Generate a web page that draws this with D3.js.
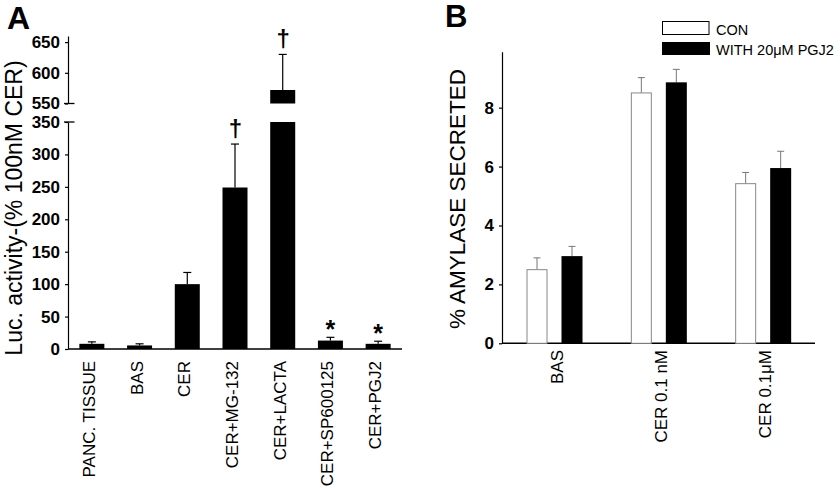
<!DOCTYPE html>
<html><head><meta charset="utf-8">
<script src="https://cdn.jsdelivr.net/npm/d3@7"></script>
<style>body{margin:0;background:#fff}svg{display:block}text{font-family:"Liberation Sans",Arial,sans-serif}</style>
</head><body><svg id="c" width="840" height="488"></svg>
<script>
// Panel A data
const catsA = ["PANC. TISSUE","BAS","CER","CER+MG-132","CER+LACTA","CER+SP600125","CER+PGJ2"];
const valsA = [8, 5.5, 100, 249, 572, 13, 8];
const errA  = [3, 2.5, 18, 67, 58, 5, 4];
const sigA  = ["", "", "", "†", "†", "*", "*"];
const ticksLowA = [0,50,100,150,200,250,300,350];
const ticksHighA = [550,600,650];
// Panel B data
const catsB = ["BAS","CER 0.1 nM","CER 0.1μM"];
const seriesB = ["CON","WITH 20μM PGJ2"];
const conB = [2.5, 8.5, 5.42];
const conErrB = [0.4, 0.52, 0.38];
const pgjB = [2.96, 8.86, 5.95];
const pgjErrB = [0.33, 0.44, 0.57];
const ticksB = [0,2,4,6,8];

const svg = d3.select("#c");
svg.append("rect").attr("width",840).attr("height",488).attr("fill","#fff");
const F = '"Liberation Sans",Arial,sans-serif';

// ---------- Panel A ----------
const gA = svg.append("g");
const xA = d3.scaleBand().domain(catsA).range([68,402]).paddingInner(0.476).paddingOuter(0.238);
const yLow = d3.scaleLinear().domain([0,350]).range([349,122]);
const yHigh = d3.scaleLinear().domain([550,660]).range([103.5,36]);

const axL = gA.append("g").attr("transform","translate(68,0)")
  .call(d3.axisLeft(yLow).tickValues(ticksLowA).tickSize(3).tickSizeOuter(0).tickPadding(5));
const axH = gA.append("g").attr("transform","translate(68,0)")
  .call(d3.axisLeft(yHigh).tickValues(ticksHighA).tickSize(3).tickSizeOuter(0).tickPadding(5));
[axL,axH].forEach(a=>{
  a.selectAll("text").attr("font-size",17).attr("font-weight","bold").attr("font-family",F).attr("fill","#000");
  a.selectAll("path,line").attr("stroke","#000").attr("stroke-width",1.2);
});
// break caps
[yLow(350), yHigh(550)].forEach(y=>{
  gA.append("line").attr("x1",64).attr("x2",74.5).attr("y1",y).attr("y2",y).attr("stroke","#000").attr("stroke-width",1.3);
});
// x axis
gA.append("line").attr("x1",68).attr("x2",402).attr("y1",yLow(0)).attr("y2",yLow(0)).attr("stroke","#000").attr("stroke-width",1.5);

const bw = xA.bandwidth();
catsA.forEach((c,i)=>{
  const v = valsA[i], e = errA[i], x0 = xA(c), cx = x0 + bw/2;
  const lowTop = yLow(Math.min(v,350));
  gA.append("rect").attr("x",x0).attr("width",bw).attr("y",lowTop).attr("height",yLow(0)-lowTop).attr("fill","#000");
  let topY;
  if (v > 550) {
    gA.append("rect").attr("x",x0).attr("width",bw).attr("y",yHigh(v)).attr("height",yHigh(550)-yHigh(v)).attr("fill","#000");
    topY = yHigh(v+e);
    gA.append("line").attr("x1",cx).attr("x2",cx).attr("y1",yHigh(v)).attr("y2",topY).attr("stroke","#000").attr("stroke-width",1.2);
  } else {
    topY = yLow(v+e);
    gA.append("line").attr("x1",cx).attr("x2",cx).attr("y1",yLow(v)).attr("y2",topY).attr("stroke","#000").attr("stroke-width",1.2);
  }
  gA.append("line").attr("x1",cx-4).attr("x2",cx+4).attr("y1",topY).attr("y2",topY).attr("stroke","#000").attr("stroke-width",1.2);
  if (sigA[i]==="†") {
    gA.append("text").attr("x",cx+0.5).attr("y",topY-7).attr("text-anchor","middle").attr("font-size",24).attr("font-weight","bold").text(sigA[i]);
  } else if (sigA[i]==="*") {
    gA.append("text").attr("x",cx).attr("y",topY+1).attr("text-anchor","middle").attr("font-size",25).attr("font-weight","bold").text(sigA[i]);
  }
  gA.append("text").attr("transform",`translate(${cx-3},361) rotate(-90)`).attr("dy","0.35em")
    .attr("text-anchor","end").attr("font-size",17).text(c);
});
gA.append("text").attr("transform",`translate(21.5,208) rotate(-90)`).attr("text-anchor","middle").attr("font-size",23).text("Luc. activity-(% 100nM CER)");
gA.append("text").attr("x",7).attr("y",29).attr("font-size",32).attr("font-weight","bold").text("A");

// ---------- Panel B ----------
const gB = svg.append("g");
const xB = d3.scaleBand().domain(catsB).range([502,815]);
const xIn = d3.scaleBand().domain(seriesB).range([24.5,80.5]).paddingInner(0.4);
const yB = d3.scaleLinear().domain([0,9.9]).range([343.3,51.7]);
const axB = gB.append("g").attr("transform","translate(502,0)")
  .call(d3.axisLeft(yB).tickValues(ticksB).tickSize(3).tickSizeOuter(0).tickPadding(5));
axB.selectAll("text").attr("font-size",17).attr("font-weight","bold").attr("font-family",F).attr("fill","#000");
axB.selectAll("path,line").attr("stroke","#000").attr("stroke-width",1.2);
gB.append("line").attr("x1",502).attr("x2",815).attr("y1",yB(0)).attr("y2",yB(0)).attr("stroke","#000").attr("stroke-width",1.5);

const bwB = xIn.bandwidth();
catsB.forEach((c,i)=>{
  [[seriesB[0],conB[i],conErrB[i]],[seriesB[1],pgjB[i],pgjErrB[i]]].forEach(([s,v,e],k)=>{
    const x0 = xB(c)+xIn(s), cx = x0+bwB/2;
    gB.append("line").attr("x1",cx).attr("x2",cx).attr("y1",yB(v)).attr("y2",yB(v+e)).attr("stroke","#777").attr("stroke-width",1);
    gB.append("line").attr("x1",cx-3.5).attr("x2",cx+3.5).attr("y1",yB(v+e)).attr("y2",yB(v+e)).attr("stroke","#777").attr("stroke-width",1);
    gB.append("rect").attr("x",k===0?x0+0.5:x0).attr("width",k===0?bwB-1:bwB).attr("y",yB(v)).attr("height",yB(0)-yB(v))
      .attr("fill",k===0?"#fff":"#000").attr("stroke",k===0?"#888":"none").attr("stroke-width",1);
  });
  const cx = xB(c)+xB.bandwidth()/2;
  gB.append("text").attr("transform",`translate(${cx+2.5},350) rotate(-90)`).attr("dy","0.35em")
    .attr("text-anchor","end").attr("font-size",17).text(c);
});
gB.append("text").attr("transform",`translate(465,199) rotate(-90)`).attr("text-anchor","middle").attr("font-size",22.5).text("% AMYLASE SECRETED");
gB.append("text").attr("x",445).attr("y",27).attr("font-size",31).attr("font-weight","bold").text("B");

// legend
const leg = gB.append("g");
seriesB.forEach((s,k)=>{
  const y0 = 22 + k*20;
  leg.append("rect").attr("x",k===0?662.5:662).attr("y",k===0?y0-0.5:y0).attr("width",k===0?46.5:48).attr("height",13)
    .attr("fill",k===0?"#fff":"#000").attr("stroke",k===0?"#000":"none").attr("stroke-width",1);
  leg.append("text").attr("x",716).attr("y",y0+13).attr("font-size",14.5).text(s);
});
</script></body></html>
